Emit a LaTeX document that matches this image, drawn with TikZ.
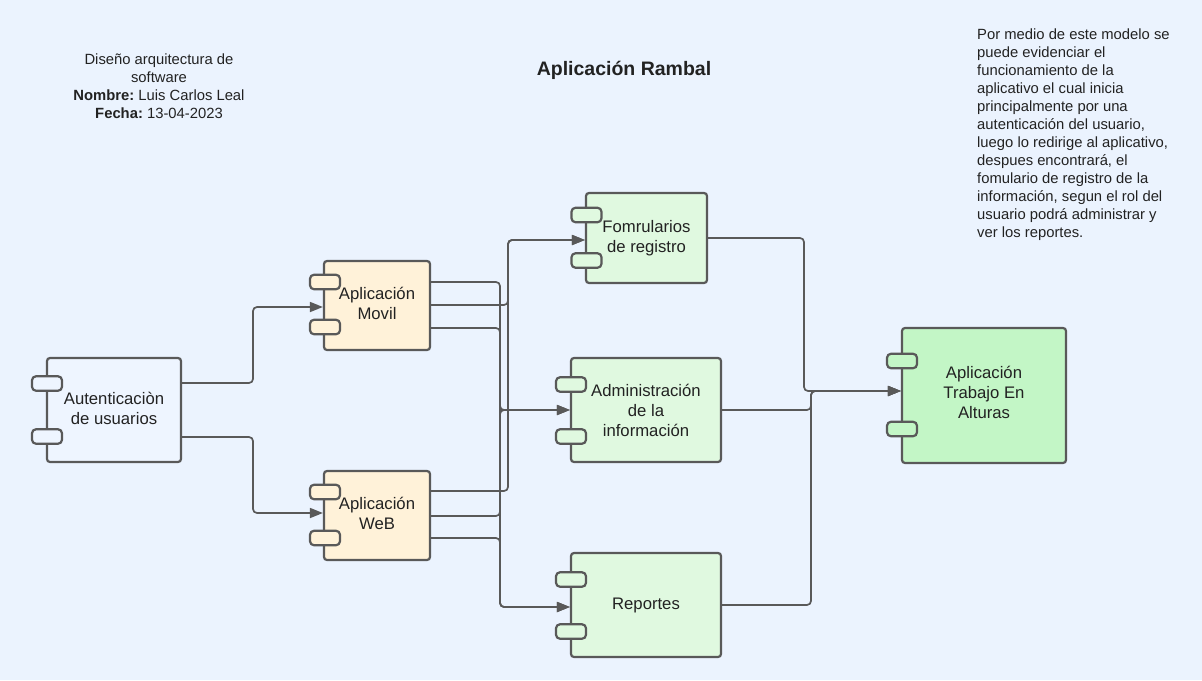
\documentclass[tikz,border=0pt]{standalone}
\usepackage{fontspec}
\setmainfont{Liberation Sans}
\usetikzlibrary{arrows.meta,calc}
\definecolor{bgblue}{HTML}{EBF3FE}
\definecolor{edgegray}{HTML}{595959}
\definecolor{cream}{HTML}{FFF2D9}
\definecolor{mint}{HTML}{E0F9E0}
\definecolor{appgreen}{HTML}{C3F6C6}
\definecolor{authfill}{HTML}{EEF5FF}
\definecolor{txt}{HTML}{222222}
\tikzset{
  comp/.style={draw=edgegray, line width=2.2pt, rounded corners=3pt, align=center,
    font=\fontsize{16.7}{20}\selectfont, text=txt, inner sep=0pt},
  tab/.style={draw=edgegray, line width=2.2pt, rounded corners=4pt,
    minimum width=30pt, minimum height=14.5pt, inner sep=0pt},
  link/.style={draw=edgegray, line width=1.7pt, rounded corners=4pt},
  arr/.style={link, -{Triangle[length=13pt,width=10pt]}},
  note/.style={text=txt, font=\fontsize{14.8}{18}\selectfont, inner sep=0pt}
}
\begin{document}
\begin{tikzpicture}[x=1pt,y=-1pt]
\fill[bgblue] (0,0) rectangle (1202,680);
\useasboundingbox (0,0) rectangle (1202,680);

% texts
\node[note, align=center] (hdr) at (159,86) {Diseño arquitectura de\\software\\\textbf{Nombre:}~Luis Carlos Leal\\\textbf{Fecha:}~13-04-2023};
\node[text=txt, font=\bfseries\fontsize{19.5}{22}\selectfont, inner sep=0pt] (title) at (624,70) {Aplicación Rambal};
\node[note, align=left, anchor=west] (desc) at (977,135) {Por medio de este modelo se\\puede evidenciar el\\funcionamiento de la\\aplicativo el cual inicia\\principalmente por una\\autenticación del usuario,\\luego lo redirige al aplicativo,\\despues encontrará, el\\fomulario de registro de la\\información, segun el rol del\\usuario podrá administrar y\\ver los reportes.};

% components
\node[comp, fill=authfill, minimum width=134pt, minimum height=104pt] (auth) at (114,410) {Autenticaciòn\\de usuarios\vphantom{p}\rule{0pt}{0pt}};
\node[tab, fill=authfill] (auth1) at (47,383.5) {};
\node[tab, fill=authfill] (auth2) at (47,436.5) {};

\node[comp, fill=cream, minimum width=106pt, minimum height=89pt] (movil) at (377,305.5) {Aplicación\\Movil\raisebox{0pt}[0pt][4pt]{}};
\node[tab, fill=cream] (movil1) at (325,282) {};
\node[tab, fill=cream] (movil2) at (325,327) {};

\node[comp, fill=cream, minimum width=106pt, minimum height=89pt] (web) at (377,515.5) {Aplicación\\WeB\raisebox{0pt}[0pt][4pt]{}};
\node[tab, fill=cream] (web1) at (325,492) {};
\node[tab, fill=cream] (web2) at (325,538) {};

\node[comp, fill=mint, minimum width=121pt, minimum height=90pt] (form) at (646.5,238) {Fomrularios\\de registro};
\node[tab, fill=mint] (form1) at (586.5,215) {};
\node[tab, fill=mint] (form2) at (586.5,260.5) {};

\node[comp, fill=mint, minimum width=150pt, minimum height=104pt] (admin) at (646,410) {Administración\\de la\\información};
\node[tab, fill=mint] (admin1) at (571,384.5) {};
\node[tab, fill=mint] (admin2) at (571,436.5) {};

\node[comp, fill=mint, minimum width=150pt, minimum height=104pt] (rep) at (646,605) {Reportes};
\node[tab, fill=mint] (rep1) at (571,579.5) {};
\node[tab, fill=mint] (rep2) at (571,631.5) {};

\node[comp, fill=appgreen, minimum width=164pt, minimum height=135pt] (trab) at (984,395.5) {Aplicación\\Trabajo En\\Alturas\raisebox{0pt}[0pt][6pt]{}};
\node[tab, fill=appgreen] (trab1) at (902,361) {};
\node[tab, fill=appgreen] (trab2) at (902,429) {};

% connectors: authentication to apps
\draw[arr] ($(auth.east)+(0,-27)$) -- (253,383) -- (253,307) -- ($(movil.west)+(0,1.5)$);
\draw[arr] ($(auth.east)+(0,27)$) -- (253,437) -- (253,513) -- ($(web.west)+(0,-2.5)$);

% movil
\draw[arr] ($(movil.east)+(0,-23.5)$) -- (500,282) -- (500,410) -- (admin.west);
\draw[arr] ($(movil.east)+(0,-0.5)$) -- (508,305) -- (508,240) -- ($(form.west)+(0,2)$);
\draw[arr] ($(movil.east)+(0,22.5)$) -- (500,328) -- (500,607) -- ($(rep.west)+(0,2)$);
% web
\draw[arr] ($(web.east)+(0,-24.5)$) -- (508,491) -- (508,240) -- ($(form.west)+(0,2)$);
\draw[arr] ($(web.east)+(0,0.5)$) -- (500,516) -- (500,410) -- (admin.west);
\draw[arr] ($(web.east)+(0,22.5)$) -- (500,538) -- (500,607) -- ($(rep.west)+(0,2)$);

% to final app
\draw[arr] (form.east) -- (804,238) -- (804,391) -- ($(trab.west)+(0,-4.5)$);
\draw[arr] (admin.east) -- (811,410) -- (811,391) -- ($(trab.west)+(0,-4.5)$);
\draw[arr] (rep.east) -- (811,605) -- (811,391) -- ($(trab.west)+(0,-4.5)$);
\end{tikzpicture}
\end{document}
